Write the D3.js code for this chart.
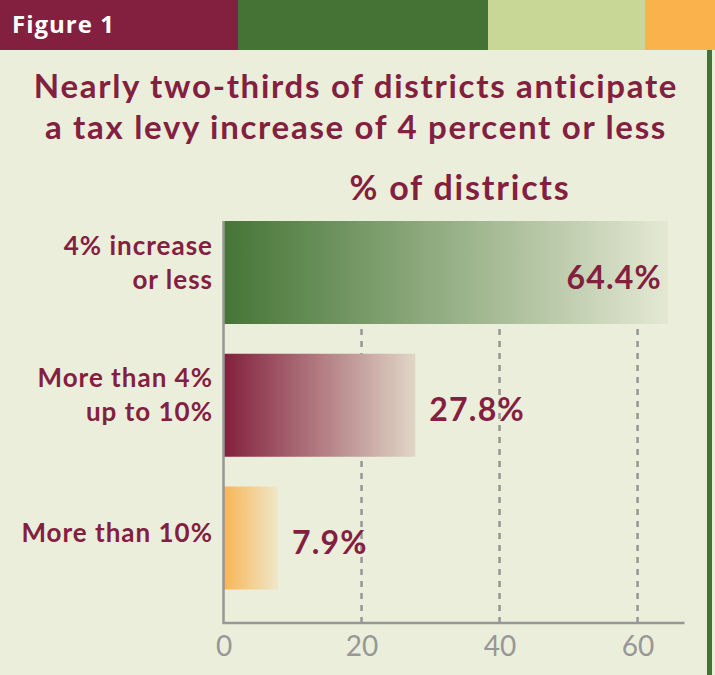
<!DOCTYPE html>
<html>
<head>
<meta charset="utf-8">
<script src="https://cdn.jsdelivr.net/npm/d3@7"></script>
<style>
  html, body { margin: 0; padding: 0; background: #ebeedb; }
  svg { display: block; }
</style>
</head>
<body>
<svg id="chart" width="715" height="675"></svg>
<script>
// Survey results: share of districts by anticipated tax levy increase
const categories = [
  ["4% increase", "or less"],
  ["More than 4%", "up to 10%"],
  ["More than 10%"]
];
const values = [64.4, 27.8, 7.9];
const valueLabels = ["64.4%", "27.8%", "7.9%"];
const tickValues = [0, 20, 40, 60];
const titleLines = [
  "Nearly two-thirds of districts anticipate",
  "a tax levy increase of 4 percent or less"
];
const axisTitle = "% of districts";
const figureLabel = "Figure 1";

// Palette
const maroon = "#84203f";
const green = "#457336";
const paleGreen = "#c8d796";
const orange = "#f9b24c";
const bg = "#ebeedb";
const grey = "#979797";
const barGradients = [
  ["#457536", "#e4e8d3"],
  ["#83203d", "#e0d6c6"],
  ["#f9b555", "#efe7c8"]
];

const W = 715, H = 675;
const svg = d3.select("#chart");

svg.append("rect").attr("width", W).attr("height", H).attr("fill", bg);

// Header band
const bands = [
  { x0: 0, x1: 238, c: maroon },
  { x0: 238, x1: 488, c: green },
  { x0: 488, x1: 645, c: paleGreen },
  { x0: 645, x1: W, c: orange }
];
svg.selectAll("rect.band").data(bands).join("rect")
  .attr("class", "band")
  .attr("x", d => d.x0).attr("y", 0)
  .attr("width", d => d.x1 - d.x0).attr("height", 50)
  .attr("fill", d => d.c);
svg.append("text")
  .attr("x", 12).attr("y", 33)
  .attr("fill", "#fff")
  .attr("font-family", "'Open Sans', sans-serif")
  .attr("font-weight", 700)
  .attr("font-size", 24)
  .attr("letter-spacing", 1)
  .text(figureLabel);

// Right edge rule
svg.append("rect").attr("x", 707).attr("y", 50).attr("width", 5).attr("height", H - 50).attr("fill", green);

// Title
svg.append("g").selectAll("text").data(titleLines).join("text")
  .attr("x", 356)
  .attr("y", (d, i) => 98 + i * 41)
  .attr("text-anchor", "middle")
  .attr("fill", maroon)
  .attr("font-family", "Lato, sans-serif")
  .attr("font-weight", 700)
  .attr("font-size", 33)
  .attr("letter-spacing", 1.7)
  .text(d => d);

// Scales
const x = d3.scaleLinear().domain([0, 66.8]).range([223.5, 684.5]);
const y = d3.scaleBand()
  .domain(d3.range(values.length))
  .range([221, 589.5])
  .paddingInner(0.224)
  .paddingOuter(0);
const axisY = 623;

svg.append("text")
  .attr("x", 460).attr("y", 200)
  .attr("text-anchor", "middle")
  .attr("fill", maroon)
  .attr("font-family", "Lato, sans-serif")
  .attr("font-weight", 700)
  .attr("font-size", 34)
  .attr("letter-spacing", 1.8)
  .text(axisTitle);

// Gradients
const defs = svg.append("defs");
barGradients.forEach((g, i) => {
  const lg = defs.append("linearGradient").attr("id", "bar-grad-" + i)
    .attr("x1", 0).attr("x2", 1).attr("y1", 0).attr("y2", 0);
  lg.append("stop").attr("offset", 0).attr("stop-color", g[0]);
  lg.append("stop").attr("offset", 1).attr("stop-color", g[1]);
});

// Dashed gridlines (behind bars)
svg.append("g").selectAll("line").data(tickValues.filter(t => t > 0)).join("line")
  .attr("x1", d => x(d)).attr("x2", d => x(d))
  .attr("y1", y(0)).attr("y2", axisY)
  .attr("stroke", grey)
  .attr("stroke-width", 2.5)
  .attr("stroke-dasharray", "6,6");

// Bars
svg.append("g").selectAll("rect").data(values).join("rect")
  .attr("x", x(0))
  .attr("y", (d, i) => y(i))
  .attr("width", d => x(d) - x(0))
  .attr("height", y.bandwidth())
  .attr("fill", (d, i) => `url(#bar-grad-${i})`);

// Axis: bottom ticks with labels, plus the left and bottom rules
const xAxis = d3.axisBottom(x).tickValues(tickValues).tickSize(0).tickPadding(13);
const gx = svg.append("g").attr("transform", `translate(0,${axisY})`).call(xAxis);
gx.select(".domain").remove();
gx.selectAll("text")
  .attr("fill", grey)
  .attr("font-family", "Lato, sans-serif")
  .attr("font-weight", 400)
  .attr("font-size", 28);

svg.append("path")
  .attr("d", `M${x(0)},${y(0)}V${axisY}H${x.range()[1]}`)
  .attr("fill", "none")
  .attr("stroke", grey)
  .attr("stroke-width", 2.5);

// Category labels
const catG = svg.append("g");
categories.forEach((lines, i) => {
  const cy = y(i) + y.bandwidth() / 2;
  const offsets = lines.length === 2 ? [-18, 16] : [4];
  lines.forEach((line, j) => {
    catG.append("text")
      .attr("x", 213)
      .attr("y", cy + offsets[j])
      .attr("text-anchor", "end")
      .attr("fill", maroon)
      .attr("font-family", "Lato, sans-serif")
      .attr("font-weight", 700)
      .attr("font-size", 26)
      .attr("letter-spacing", 1)
      .text(line);
  });
});

// Value labels: inside the bar when it is long, otherwise just past its end
svg.append("g").selectAll("text").data(values).join("text")
  .attr("x", d => d > 50 ? x(d) - 6 : x(d) + 14)
  .attr("y", (d, i) => y(i) + y.bandwidth() / 2 + 16)
  .attr("text-anchor", d => d > 50 ? "end" : "start")
  .attr("fill", maroon)
  .attr("font-family", "Lato, sans-serif")
  .attr("font-weight", 700)
  .attr("font-size", 32)
  .attr("letter-spacing", 1.2)
  .text((d, i) => valueLabels[i]);
</script>
</body>
</html>
